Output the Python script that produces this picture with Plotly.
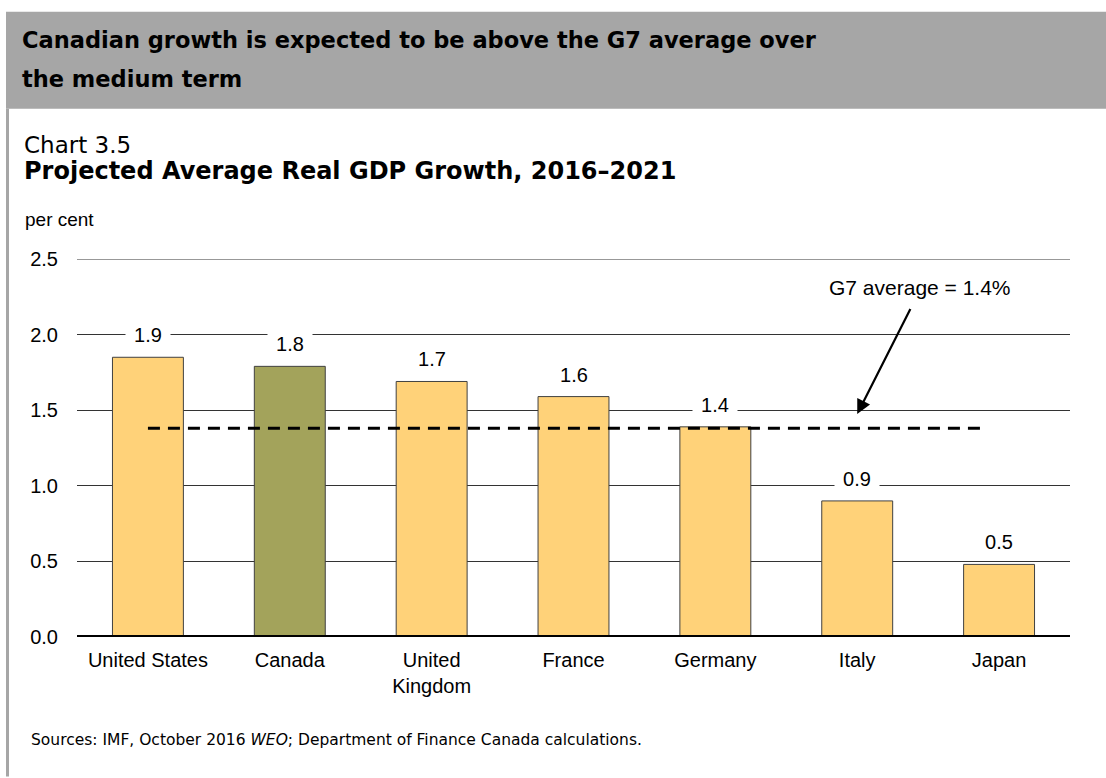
import plotly.graph_objects as go

# Projected average real GDP growth, 2016-2021 (per cent)
countries = ["United States", "Canada", "United<br>Kingdom", "France", "Germany", "Italy", "Japan"]
growth = [1.85, 1.79, 1.69, 1.59, 1.39, 0.90, 0.48]
g7_average = 1.38
y_ticks = [0.0, 0.5, 1.0, 1.5, 2.0, 2.5]

YELLOW = "#FFD279"
OLIVE = "#A3A35B"
bar_colors = [OLIVE if c == "Canada" else YELLOW for c in countries]

W, H = 1106, 778
L, R = 77, 1070          # plot area horizontal pixel extent
T, B = 259.3, 637.5      # plot area vertical pixel extent


def px(x):
    return (x - L) / (R - L)


def py(y):
    return (B - y) / (B - T)


fig = go.Figure()
fig.add_trace(go.Bar(
    x=list(range(len(countries))),
    y=growth,
    width=0.5,
    marker=dict(color=bar_colors, line=dict(color="#404040", width=1)),
    hoverinfo="skip",
))

chart_font = "Liberation Sans, Arial, sans-serif"
head_font = "DejaVu Sans, sans-serif"
annotations = []

# value labels sitting above each bar, on a white patch that breaks the gridline
for i, v in enumerate(growth):
    annotations.append(dict(
        x=i, y=v, xref="x", yref="y", text=f"{v:.1f}", showarrow=False,
        yshift=22, yanchor="middle", xanchor="center",
        font=dict(family=chart_font, size=20, color="#000"),
        bgcolor="white", width=42, height=22,
    ))

# G7 average callout
annotations.append(dict(
    x=5.0, y=1.475, xref="x", yref="y", ax=5.38, ay=2.18, axref="x", ayref="y",
    text="", showarrow=True, arrowhead=2, arrowsize=1.3, arrowwidth=2.2,
    arrowcolor="#000", standoff=0,
))
annotations.append(dict(
    x=px(920), y=py(288), xref="paper", yref="paper", text="G7 average = 1.4%",
    showarrow=False, xanchor="center", yanchor="middle",
    font=dict(family=chart_font, size=21, color="#000"),
))

# header and titles
annotations += [
    dict(x=px(20), y=py(40), xref="paper", yref="paper",
         text="<b>Canadian growth is expected to be above the G7 average over</b>",
         showarrow=False, xanchor="left", yanchor="middle",
         font=dict(family=head_font, size=22.5, color="#000")),
    dict(x=px(20), y=py(79), xref="paper", yref="paper",
         text="<b>the medium term</b>",
         showarrow=False, xanchor="left", yanchor="middle",
         font=dict(family=head_font, size=22.5, color="#000")),
    dict(x=px(22), y=py(145), xref="paper", yref="paper", text="Chart 3.5",
         showarrow=False, xanchor="left", yanchor="middle",
         font=dict(family=head_font, size=23, color="#000")),
    dict(x=px(22), y=py(171), xref="paper", yref="paper",
         text="<b>Projected Average Real GDP Growth, 2016–2021</b>",
         showarrow=False, xanchor="left", yanchor="middle",
         font=dict(family=head_font, size=24, color="#000")),
    dict(x=px(23), y=py(220), xref="paper", yref="paper", text="per cent",
         showarrow=False, xanchor="left", yanchor="middle",
         font=dict(family=chart_font, size=19, color="#000")),
    dict(x=px(29), y=py(741), xref="paper", yref="paper",
         text="Sources: IMF, October 2016 <i>WEO</i>; Department of Finance Canada calculations.",
         showarrow=False, xanchor="left", yanchor="middle",
         font=dict(family=head_font, size=15.5, color="#000")),
]

shapes = [
    # grey header banner
    dict(type="rect", xref="paper", yref="paper", x0=px(6), x1=px(1106), y0=py(12), y1=py(109),
         fillcolor="#A6A6A6", line=dict(width=0), layer="below"),
    # grey left border of the panel
    dict(type="rect", xref="paper", yref="paper", x0=px(6), x1=px(9), y0=py(109), y1=py(777),
         fillcolor="#A6A6A6", line=dict(width=0), layer="below"),
    # top gridline at 2.5
    dict(type="line", xref="paper", yref="y", x0=0, x1=1, y0=y_ticks[-1], y1=y_ticks[-1],
         line=dict(color="#333333", width=1), layer="below"),
    # G7 average dashed line
    dict(type="line", xref="x", yref="y", x0=0, x1=5.92, y0=g7_average, y1=g7_average,
         line=dict(color="#000", width=3, dash="12px,8px"), layer="above"),
    # thick baseline
    dict(type="line", xref="paper", yref="y", x0=0, x1=1, y0=0, y1=0,
         line=dict(color="#000", width=4), layer="above"),
]

fig.update_layout(
    width=W, height=H,
    margin=dict(l=L, r=W - R, t=T, b=H - B, pad=0),
    paper_bgcolor="white", plot_bgcolor="white",
    showlegend=False,
    annotations=annotations,
    shapes=shapes,
    xaxis=dict(
        range=[-0.5, 6.5], tickmode="array", tickvals=list(range(len(countries))),
        ticktext=countries, showgrid=False, zeroline=False, showline=False,
        ticks="", ticklabelstandoff=9,
        tickfont=dict(family=chart_font, size=20, color="#000"),
    ),
    yaxis=dict(
        range=[0, 2.5], tickmode="array", tickvals=y_ticks,
        ticktext=[f"{t:.1f}" for t in y_ticks],
        showgrid=True, gridcolor="#333333", gridwidth=1, zeroline=False,
        showline=False, ticks="", ticklabelstandoff=18,
        tickfont=dict(family=chart_font, size=20, color="#000"),
    ),
)

fig.write_html("out.html")
